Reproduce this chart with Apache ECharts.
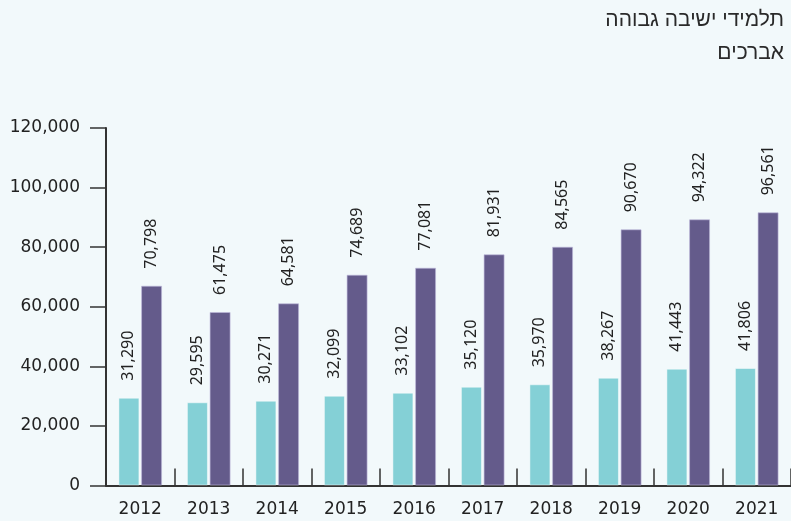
<!DOCTYPE html>
<html>
<head>
<meta charset="utf-8">
<script src="https://cdn.jsdelivr.net/npm/echarts@6/dist/echarts.min.js"></script>
<style>
  html, body { margin: 0; padding: 0; background: #f2f9fb; }
  #chart { width: 791px; height: 521px; }
</style>
</head>
<body>
<div id="chart"></div>
<script>
var years = ['2012', '2013', '2014', '2015', '2016', '2017', '2018', '2019', '2020', '2021'];

// bar heights
var yeshivaValues = [29470, 27930, 28465, 30143, 31150, 33164, 33970, 36185, 39205, 39441];
var avrechimValues = [67066, 58238, 61158, 70758, 73108, 77606, 80157, 86000, 89354, 91703];

// numbers printed above the bars
var yeshivaLabels = ['31,290', '29,595', '30,271', '32,099', '33,102', '35,120', '35,970', '38,267', '41,443', '41,806'];
var avrechimLabels = ['70,798', '61,475', '64,581', '74,689', '77,081', '81,931', '84,565', '90,670', '94,322', '96,561'];

var yTicks = [0, 20000, 40000, 60000, 80000, 100000, 120000];

var axisFont = 'DejaVu Sans';
var labelFont = 'Noto Sans';

function barLabel(labels) {
  return {
    show: true,
    position: 'top',
    rotate: 90,
    align: 'left',
    verticalAlign: 'middle',
    distance: 17,
    color: '#222',
    fontFamily: labelFont,
    fontSize: 16,
    formatter: function (p) { return labels[p.dataIndex]; }
  };
}

var chart = echarts.init(document.getElementById('chart'));
chart.setOption({
  backgroundColor: '#f2f9fb',
  animation: false,
  title: [{
    text: 'תלמידי ישיבה גבוהה',
    right: 2,
    top: 5,
    textStyle: { fontFamily: 'Liberation Sans', fontSize: 21, fontWeight: 'normal', color: '#2a2a2a' }
  }, {
    text: 'אברכים',
    right: 2,
    top: 38,
    textStyle: { fontFamily: 'Liberation Sans', fontSize: 21, fontWeight: 'normal', color: '#2a2a2a' }
  }],
  grid: { left: 106, right: -2, top: 128, bottom: 35.5 },
  xAxis: {
    type: 'category',
    data: years,
    axisLine: { lineStyle: { color: '#333', width: 2 } },
    axisTick: { show: true, inside: true, length: 17, lineStyle: { color: '#333', width: 1.5 } },
    axisLabel: { margin: 16, color: '#222', fontFamily: axisFont, fontSize: 17 }
  },
  yAxis: {
    type: 'value',
    min: yTicks[0],
    max: yTicks[yTicks.length - 1],
    interval: 20000,
    splitLine: { show: false },
    axisLine: { show: true, lineStyle: { color: '#333', width: 2 } },
    axisTick: { show: true, length: 16, lineStyle: { color: '#333', width: 1.5 } },
    axisLabel: {
      margin: 26,
      color: '#222',
      fontFamily: axisFont,
      fontSize: 17,
      formatter: function (v) { return v.toLocaleString('en-US'); }
    }
  },
  series: [{
    name: 'תלמידי ישיבה גבוהה',
    type: 'bar',
    data: yeshivaValues,
    barWidth: 21,
    barGap: '8%',
    itemStyle: { color: '#84d0d6', borderColor: 'rgba(255,255,255,0.45)', borderWidth: 1 },
    label: barLabel(yeshivaLabels)
  }, {
    name: 'אברכים',
    type: 'bar',
    data: avrechimValues,
    barWidth: 21,
    itemStyle: { color: '#645b8b', borderColor: 'rgba(190,185,220,0.6)', borderWidth: 1 },
    label: barLabel(avrechimLabels)
  }]
});
</script>
</body>
</html>
